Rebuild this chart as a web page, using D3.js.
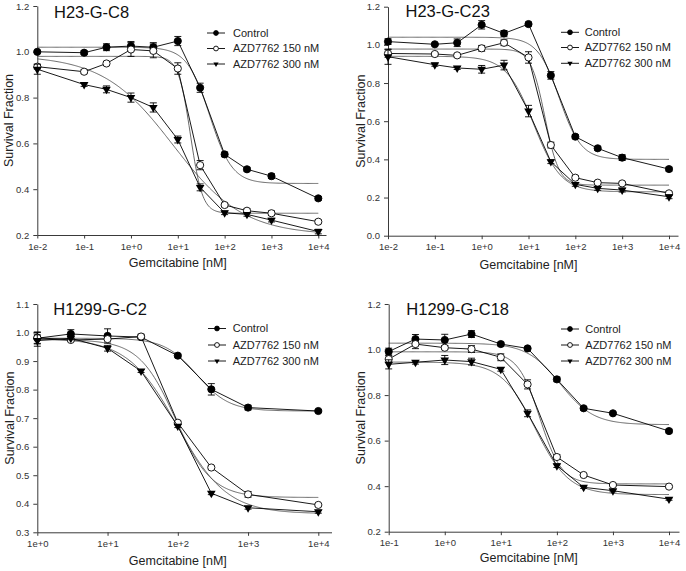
<!DOCTYPE html>
<html><head><meta charset="utf-8">
<script src="https://cdn.jsdelivr.net/npm/d3@7"></script>
<style>
body{margin:0;background:#fff}
svg{display:block}
text{font-family:Arial,"Liberation Sans",Helvetica,sans-serif}
</style>
</head><body>
<svg id="chart" width="686" height="571"></svg>
<script>
// ---------------- DATA ----------------
const seriesNames = ["Control", "AZD7762 150 nM", "AZD7762 300 nM"];

// Panel 1: H23-G-C8
const c8Dose      = [0.01, 0.1, 0.3, 1, 3, 10, 30, 100, 300, 1000, 10000];
const c8Control   = [1.000, 0.996, 1.020, 1.025, 1.020, 1.047, 0.843, 0.552, 0.487, 0.457, 0.360];
const c8ControlSE = [0.005, 0.008, 0.015, 0.020, 0.020, 0.020, 0.020, 0.010, 0.008, 0.010, 0.008];
const c8A150      = [0.935, 0.913, 0.949, 1.010, 1.004, 0.927, 0.505, 0.331, 0.306, 0.295, 0.258];
const c8A150SE    = [0.010, 0.008, 0.008, 0.030, 0.030, 0.025, 0.020, 0.008, 0.008, 0.010, 0.008];
const c8A300      = [0.924, 0.857, 0.836, 0.800, 0.757, 0.617, 0.408, 0.297, 0.290, 0.265, 0.215];
const c8A300SE    = [0.022, 0.008, 0.015, 0.020, 0.020, 0.015, 0.015, 0.008, 0.008, 0.008, 0.010];
// fitted 4-parameter curves: [top, bottom, logEC50, hill]
const c8Fits      = [[1.020, 0.425, 1.68, 1.8], [0.980, 0.295, 1.27, 3.4], [0.985, 0.200, 0.90, 0.58]];
const c8YTicks    = ["0.2", "0.4", "0.6", "0.8", "1.0", "1.2"];
const c8XTicks    = ["1e-2", "1e-1", "1e+0", "1e+1", "1e+2", "1e+3", "1e+4"];

// Panel 2: H23-G-C23
const c23Dose      = [0.01, 0.1, 0.3, 1, 3, 10, 30, 100, 300, 1000, 10000];
const c23Control   = [1.017, 1.003, 1.011, 1.105, 1.060, 1.109, 0.840, 0.519, 0.458, 0.409, 0.349];
const c23ControlSE = [0.015, 0.005, 0.020, 0.022, 0.015, 0.010, 0.020, 0.010, 0.010, 0.015, 0.010];
const c23A150      = [0.955, 0.952, 0.945, 0.982, 1.011, 0.934, 0.475, 0.304, 0.278, 0.274, 0.222];
const c23A150SE    = [0.020, 0.008, 0.008, 0.015, 0.015, 0.030, 0.015, 0.010, 0.008, 0.008, 0.008];
const c23A300      = [0.938, 0.896, 0.879, 0.872, 0.894, 0.653, 0.388, 0.269, 0.248, 0.239, 0.204];
const c23A300SE    = [0.040, 0.008, 0.008, 0.020, 0.025, 0.030, 0.010, 0.010, 0.010, 0.010, 0.010];
const c23Fits      = [[1.040, 0.400, 1.66, 1.87], [0.978, 0.265, 1.35, 2.9], [0.940, 0.230, 1.11, 1.49]];
const c23YTicks    = ["0.0", "0.2", "0.4", "0.6", "0.8", "1.0", "1.2"];
const c23XTicks    = ["1e-2", "1e-1", "1e+0", "1e+1", "1e+2", "1e+3", "1e+4"];

// Panel 3: H1299-G-C2
const c2Dose      = [1, 3, 10, 30, 100, 300, 1000, 10000];
const c2Control   = [0.980, 0.995, 0.988, 0.984, 0.919, 0.801, 0.737, 0.725];
const c2ControlSE = [0.020, 0.015, 0.025, 0.005, 0.005, 0.020, 0.008, 0.005];
const c2A150      = [0.982, 0.974, 0.977, 0.986, 0.684, 0.527, 0.433, 0.396];
const c2A150SE    = [0.020, 0.005, 0.005, 0.008, 0.005, 0.005, 0.010, 0.005];
const c2A300      = [0.972, 0.980, 0.945, 0.865, 0.672, 0.437, 0.386, 0.372];
const c2A300SE    = [0.020, 0.005, 0.010, 0.005, 0.005, 0.005, 0.005, 0.005];
const c2Fits      = [[0.980, 0.725, 2.27, 1.9], [0.975, 0.422, 1.965, 1.68], [0.980, 0.365, 1.994, 1.23]];
const c2YTicks    = ["0.3", "0.4", "0.5", "0.6", "0.7", "0.8", "0.9", "1.0", "1.1"];
const c2XTicks    = ["1e+0", "1e+1", "1e+2", "1e+3", "1e+4"];

// Panel 4: H1299-G-C18
const c18Dose      = [0.1, 0.3, 1, 3, 10, 30, 100, 300, 1000, 10000];
const c18Control   = [0.991, 1.046, 1.042, 1.068, 1.024, 1.005, 0.869, 0.742, 0.720, 0.642];
const c18ControlSE = [0.015, 0.020, 0.025, 0.015, 0.008, 0.005, 0.010, 0.008, 0.005, 0.008];
const c18A150      = [0.958, 1.024, 1.008, 1.002, 0.966, 0.847, 0.528, 0.449, 0.405, 0.398];
const c18A150SE    = [0.015, 0.020, 0.008, 0.015, 0.015, 0.020, 0.010, 0.005, 0.005, 0.005];
const c18A300      = [0.935, 0.944, 0.954, 0.947, 0.913, 0.720, 0.490, 0.395, 0.380, 0.343];
const c18A300SE    = [0.020, 0.008, 0.020, 0.015, 0.008, 0.015, 0.008, 0.005, 0.005, 0.005];
const c18Fits      = [[1.028, 0.670, 2.06, 1.46], [0.990, 0.410, 1.695, 2.23], [0.945, 0.363, 1.614, 1.45]];
const c18YTicks    = ["0.2", "0.4", "0.6", "0.8", "1.0", "1.2"];
const c18XTicks    = ["1e-1", "1e+0", "1e+1", "1e+2", "1e+3", "1e+4"];

// ---------------- PANELS (layout) ----------------
const panels = [
  { title: "H23-G-C8", dose: c8Dose, vals: [c8Control, c8A150, c8A300], errs: [c8ControlSE, c8A150SE, c8A300SE],
    fits: c8Fits, yTicks: c8YTicks, xTicks: c8XTicks,
    left: 37.3, right: 318.3, axisEnd: 326, top: 6, bottom: 235,
    titleX: 54, titleY: 18, yLabX: 13, xLabY: 267, legX: 207, legTextX: 233, legY: [33, 48.5, 64] },
  { title: "H23-G-C23", dose: c23Dose, vals: [c23Control, c23A150, c23A300], errs: [c23ControlSE, c23A150SE, c23A300SE],
    fits: c23Fits, yTicks: c23YTicks, xTicks: c23XTicks,
    left: 388, right: 669, axisEnd: 678, top: 6.7, bottom: 235.7,
    titleX: 405.5, titleY: 16.8, yLabX: 364.5, xLabY: 268.5, legX: 561, legTextX: 584.7, legY: [32.3, 47.5, 63.3] },
  { title: "H1299-G-C2", dose: c2Dose, vals: [c2Control, c2A150, c2A300], errs: [c2ControlSE, c2A150SE, c2A300SE],
    fits: c2Fits, yTicks: c2YTicks, xTicks: c2XTicks,
    left: 37.3, right: 318.3, axisEnd: 331.5, top: 304, bottom: 532.3,
    titleX: 53.3, titleY: 315, yLabX: 13.5, xLabY: 565, legX: 208, legTextX: 232.7, legY: [328.5, 345, 361] },
  { title: "H1299-G-C18", dose: c18Dose, vals: [c18Control, c18A150, c18A300], errs: [c18ControlSE, c18A150SE, c18A300SE],
    fits: c18Fits, yTicks: c18YTicks, xTicks: c18XTicks,
    left: 388.7, right: 669, axisEnd: 679, top: 304, bottom: 531.7,
    titleX: 406.3, titleY: 314.5, yLabX: 365, xLabY: 562, legX: 561, legTextX: 585.3, legY: [329, 345, 361] }
];

const svg = d3.select("#chart");
const AX = "#3a3a3a", TXT = "#222", FIT = "#444", DATA = "#000";
const tri = d3.symbol().type(d3.symbolTriangle);

function marker(g, kind, cx, cy, small) {
  const r = small ? 2.4 : 3.6;
  if (kind === 2) {
    g.append("path").attr("d", tri.size(small ? 12 : 32)())
      .attr("transform", `translate(${cx},${cy}) rotate(180)`).attr("fill", DATA);
  } else {
    g.append("circle").attr("cx", cx).attr("cy", cy).attr("r", r)
      .attr("fill", kind === 0 ? DATA : "#fff").attr("stroke", DATA).attr("stroke-width", 0.9);
  }
}

panels.forEach(p => {
  const g = svg.append("g");
  const xMin = p.dose[0];
  const x = d3.scaleLog().domain([xMin, 1e4]).range([p.left, p.right]);
  const yMin = +p.yTicks[0], yMax = +p.yTicks[p.yTicks.length - 1];
  const y = d3.scaleLinear().domain([yMin, yMax]).range([p.bottom, p.top]);

  // axes
  const xAxisScale = x.copy().domain([xMin, x.invert(p.axisEnd)]).range([p.left, p.axisEnd]);
  const xTickVals = p.xTicks.map(t => Math.pow(10, +t.slice(2)));
  const xa = g.append("g").attr("transform", `translate(0,${p.bottom})`)
    .call(d3.axisBottom(xAxisScale).tickValues(xTickVals).tickSize(3.5).tickPadding(4.5).tickSizeOuter(0)
      .tickFormat((d, i) => p.xTicks[i]));
  const ya = g.append("g").attr("transform", `translate(${p.left},0)`)
    .call(d3.axisLeft(y).tickValues(p.yTicks.map(Number)).tickSize(4).tickPadding(4).tickSizeOuter(0)
      .tickFormat((d, i) => p.yTicks[i]));
  [xa, ya].forEach(a => {
    a.select(".domain").attr("stroke", AX).attr("stroke-width", 1);
    a.selectAll(".tick line").attr("stroke", AX);
    a.selectAll(".tick text").attr("fill", "#333").style("font-size", "9.5px");
  });

  // fitted curves
  const lmin = Math.log10(xMin), lmax = 4;
  p.fits.forEach(f => {
    const [top, bot, L, h] = f;
    const pts = d3.range(0, 301).map(i => {
      const lx = lmin + i * (lmax - lmin) / 300;
      return [Math.pow(10, lx), bot + (top - bot) / (1 + Math.pow(10, (lx - L) * h))];
    });
    g.append("path").datum(pts).attr("fill", "none").attr("stroke", FIT).attr("stroke-width", 0.8)
      .attr("d", d3.line().x(d => x(d[0])).y(d => y(d[1])));
  });

  // data series
  p.vals.forEach((vals, si) => {
    const pts = p.dose.map((d, i) => [d, vals[i], p.errs[si][i]]);
    g.append("path").datum(pts).attr("fill", "none").attr("stroke", DATA).attr("stroke-width", 0.9)
      .attr("d", d3.line().x(d => x(d[0])).y(d => y(d[1])));
    pts.forEach(d => {
      const cx = x(d[0]), y1 = y(d[1] + d[2]), y2 = y(d[1] - d[2]);
      g.append("line").attr("x1", cx).attr("x2", cx).attr("y1", y1).attr("y2", y2).attr("stroke", DATA).attr("stroke-width", 0.9);
      [y1, y2].forEach(yy => g.append("line").attr("x1", cx - 3.5).attr("x2", cx + 3.5).attr("y1", yy).attr("y2", yy)
        .attr("stroke", DATA).attr("stroke-width", 0.9));
    });
    pts.forEach(d => marker(g, si, x(d[0]), y(d[1]), false));
  });

  // legend
  seriesNames.forEach((name, i) => {
    const ly = p.legY[i];
    g.append("line").attr("x1", p.legX).attr("x2", p.legX + 18).attr("y1", ly).attr("y2", ly)
      .attr("stroke", DATA).attr("stroke-width", 0.9);
    marker(g, i, p.legX + 9, ly, true);
    g.append("text").attr("x", p.legTextX).attr("y", ly).attr("dy", "0.36em")
      .attr("fill", TXT).style("font-size", "11px").text(name);
  });

  // labels
  g.append("text").attr("x", p.titleX).attr("y", p.titleY).attr("fill", "#111")
    .style("font-size", "16.5px").text(p.title);
  g.append("text").attr("transform", `translate(${p.yLabX},${(p.top + p.bottom) / 2}) rotate(-90)`)
    .attr("text-anchor", "middle").attr("fill", TXT).style("font-size", "12.5px").text("Survival Fraction");
  g.append("text").attr("x", (p.left + p.right) / 2).attr("y", p.xLabY).attr("text-anchor", "middle")
    .attr("fill", TXT).style("font-size", "12.5px").text("Gemcitabine [nM]");
});
</script>
</body></html>
